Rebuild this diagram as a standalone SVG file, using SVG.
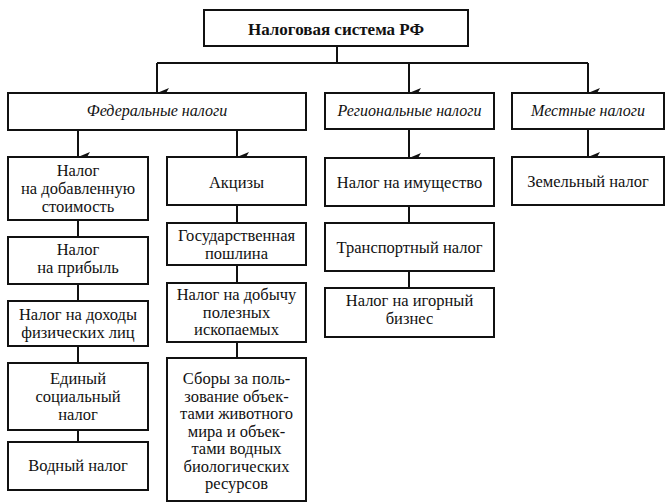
<svg xmlns="http://www.w3.org/2000/svg" width="671" height="504" viewBox="0 0 671 504">
<defs>
<style>
.box{fill:#fff;stroke:#111;stroke-width:2}
.t{font-family:"Liberation Serif","DejaVu Serif","Noto Serif",Tinos,"Times New Roman",serif;font-size:16.5px;fill:#111;text-anchor:middle}
.h{font-style:italic;font-size:16px}
.b{font-weight:bold;font-size:17px}
.c{fill:none;stroke:#111;stroke-width:2}
</style>
<marker id="arr" markerUnits="userSpaceOnUse" markerWidth="10" markerHeight="12" viewBox="0 0 10 12" refX="5" refY="12" orient="auto-start-reverse">
<path d="M0,0 L5,12 L10,0 L5,3 Z" fill="#111"/>
</marker>
</defs>
<rect width="671" height="504" fill="#fff"/>
<g id="connectors">
<path class="c" d="M337,46 V63 M157,63 H588"/>
<path class="c" d="M157,63 V93" marker-end="url(#arr)"/>
<path class="c" d="M409,63 V93" marker-end="url(#arr)"/>
<path class="c" d="M588,63 V93" marker-end="url(#arr)"/>
<path class="c" d="M78,130 V157" marker-end="url(#arr)"/>
<path class="c" d="M237,130 V157" marker-end="url(#arr)"/>
<path class="c" d="M409,129 V158" marker-end="url(#arr)"/>
<path class="c" d="M588,129 V157" marker-end="url(#arr)"/>
<path class="c" d="M78,220 V237 M78,284 V301 M78,346 V363 M78,430 V442"/>
<path class="c" d="M237,205 V223 M237,265 V283 M237,342 V358"/>
<path class="c" d="M409,206 V223 M409,271 V288"/>
</g>
<g font-family="Liberation Serif, DejaVu Serif, serif">
<g id="root"><rect class="box" x="204" y="10" width="264" height="36"/><text class="t b" x="336" y="35">Налоговая система РФ</text></g>
<g id="federal"><rect class="box" x="8" y="93" width="298" height="37"/><text class="t h" x="157" y="116">Федеральные налоги</text></g>
<g id="regional"><rect class="box" x="325" y="93" width="169" height="36"/><text class="t h" x="409.5" y="116">Региональные налоги</text></g>
<g id="local"><rect class="box" x="512" y="93" width="152" height="36"/><text class="t h" x="588" y="116">Местные налоги</text></g>
<g id="vat"><rect class="box" x="8" y="157" width="140" height="63"/><text class="t" x="78" y="176">Налог</text><text class="t" x="78" y="194">на добавленную</text><text class="t" x="78" y="212">стоимость</text></g>
<g id="profit"><rect class="box" x="8" y="237" width="140" height="47"/><text class="t" x="78" y="255">Налог</text><text class="t" x="78" y="273">на прибыль</text></g>
<g id="ndfl"><rect class="box" x="8" y="301" width="140" height="45"/><text class="t" x="78" y="320">Налог на доходы</text><text class="t" x="78" y="338">физических лиц</text></g>
<g id="esn"><rect class="box" x="8" y="363" width="140" height="67"/><text class="t" x="78" y="384">Единый</text><text class="t" x="78" y="402">социальный</text><text class="t" x="78" y="420">налог</text></g>
<g id="water"><rect class="box" x="8" y="442" width="140" height="48"/><text class="t" x="78" y="471">Водный налог</text></g>
<g id="excise"><rect class="box" x="167" y="157" width="139" height="48"/><text class="t" x="236.5" y="188">Акцизы</text></g>
<g id="duty"><rect class="box" x="167" y="223" width="139" height="42"/><text class="t" x="236.5" y="241">Государственная</text><text class="t" x="236.5" y="258.5">пошлина</text></g>
<g id="mineral"><rect class="box" x="167" y="283" width="139" height="59"/><text class="t" x="236.5" y="300">Налог на добычу</text><text class="t" x="236.5" y="317.5">полезных</text><text class="t" x="236.5" y="335">ископаемых</text></g>
<g id="fees"><rect class="box" x="167" y="358" width="139" height="143"/><text class="t" x="236.5" y="384">Сборы за поль-</text><text class="t" x="236.5" y="401.5">зование объек-</text><text class="t" x="236.5" y="419">тами животного</text><text class="t" x="236.5" y="436.5">мира и объек-</text><text class="t" x="236.5" y="454">тами водных</text><text class="t" x="236.5" y="471.5">биологических</text><text class="t" x="236.5" y="489">ресурсов</text></g>
<g id="property"><rect class="box" x="325" y="158" width="169" height="48"/><text class="t" x="409.5" y="188">Налог на имущество</text></g>
<g id="transport"><rect class="box" x="325" y="223" width="169" height="48"/><text class="t" x="409.5" y="253">Транспортный налог</text></g>
<g id="gambling"><rect class="box" x="325" y="288" width="169" height="49"/><text class="t" x="409.5" y="306">Налог на игорный</text><text class="t" x="409.5" y="324">бизнес</text></g>
<g id="land"><rect class="box" x="512" y="157" width="152" height="48"/><text class="t" x="588" y="187">Земельный налог</text></g>
</g>
</svg>
